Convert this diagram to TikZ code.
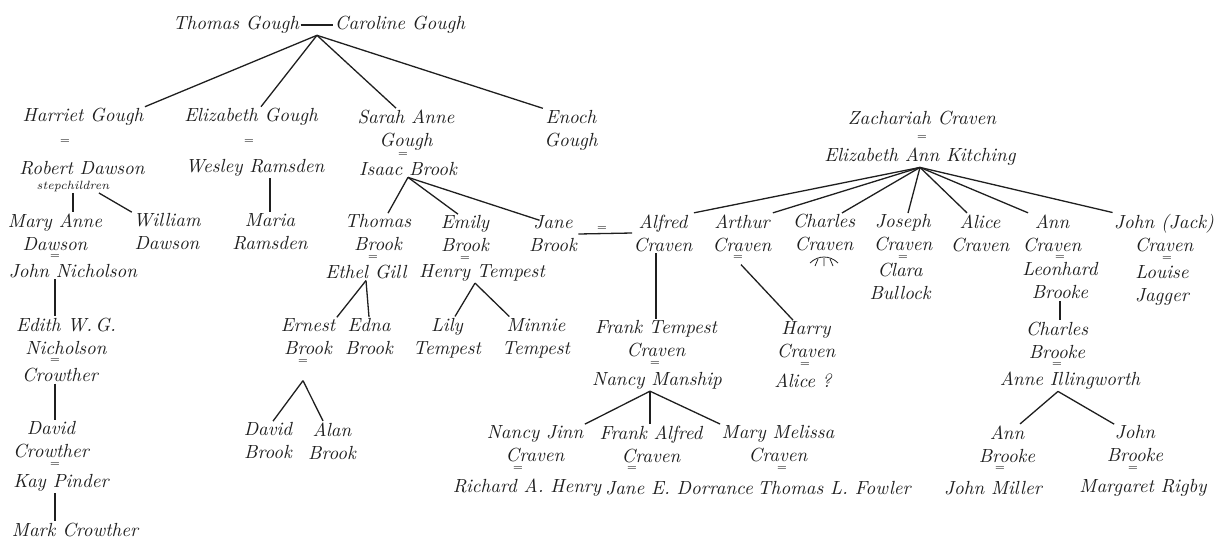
\documentclass[tikz,border=0pt]{standalone}
\usepackage{tikz}
\usetikzlibrary{calc}
\tikzset{pers/.style = {font=\fontsize{9.5}{11.5}\selectfont\itshape, align=center, inner sep=0.5pt},
  wed/.style = {font=\tiny, inner sep=0pt}}
\definecolor{ink}{rgb}{0.12, 0.12, 0.12}

\begin{document}
\begin{tikzpicture}[x=0.5pt, y=-0.5pt, line width=0.65pt, color=ink]
  \useasboundingbox (0, 0) rectangle (1215, 542);

  % Thomas and Caroline Gough
  \node [pers] (thomas) at (236, 25) {Thomas Gough};
  \node [pers] (caroline) at (400, 25) {Caroline Gough};
  \draw (thomas) -- (caroline);
  \coordinate (gough) at ($(thomas.south east)!0.5!(caroline.south west)$);

  \node [pers] (harriet) at (83, 117) {Harriet Gough};
  \node [wed] (w1) at (65, 142) {=};
  \node [pers] (robert) at (82, 168) {Robert Dawson};
  \node [pers, font=\fontsize{6}{7}\selectfont\itshape] (stepkids) at (73, 186) {stepchildren};
  \node [pers] (elizabeth) at (251, 117) {Elizabeth Gough};
  \node [wed] (w2) at (249, 142) {=};
  \node [pers] (wesley) at (255, 168) {Wesley Ramsden};
  \node [pers] (sarah) at (406, 130) {Sarah Anne\\Gough};
  \node [wed] (w3) at (403, 155) {=};
  \node [pers] (isaac) at (408, 169) {Isaac Brook};
  \node [pers] (enoch) at (571, 130) {Enoch\\Gough};
  \draw (gough) -- (harriet.north east);
  \draw (gough) -- ($(elizabeth.north)+(10, 0)$);
  \draw (gough) -- ($(sarah.north)+(-10, 0)$);
  \draw (gough) -- (enoch.north west);

  % Dawson and Crowther
  \node [pers] (maryanne) at (55, 232) {Mary Anne\\Dawson};
  \node [pers] (william) at (167, 232) {William\\Dawson};
  \draw (stepkids.south) -- (stepkids.south |- maryanne.north);
  \draw ($(stepkids.south east)+(-12, 0)$) -- (william.north west);
  \node [wed] (w4) at (55, 257) {=};
  \node [pers] (nicholson) at (73, 271) {John Nicholson};
  \node [pers] (edith) at (66, 336) {Edith W.\,G.\\Nicholson};
  \node [wed] (w5) at (55, 361) {=};
  \node [pers] (crowther) at (60, 375) {Crowther};
  \draw (nicholson.south -| w5) -- (edith.north -| w5);
  \node [pers] (david) at (51, 440) {David\\Crowther};
  \node [wed] (w6) at (55, 465) {=};
  \node [pers] (pinder) at (61, 483) {Kay Pinder};
  \draw (crowther.south -| w6) -- (david.north -| w6);
  \node [pers] (markc) at (75, 530) {Mark Crowther};
  \draw (pinder.south -| w6) -- (markc.north -| w6);

  % Ramsden
  \node [pers] (maria) at (270, 232) {Maria\\Ramsden};
  \draw (wesley.south -| maria.north) -- (maria.north);

  % Brook
  \node [pers] (thomasb) at (378, 233) {Thomas\\Brook};
  \node [pers] (emily) at (465, 234) {Emily\\Brook};
  \node [pers] (jane) at (553, 234) {Jane\\Brook};
  \draw (isaac.south) -- ($(thomasb.north)+(10, 0)$);
  \draw (isaac.south) -- ($(emily.north)+(-7, 0)$);
  \draw (isaac.south) -- ($(jane.north west)+(12, 6)$);
  \node [wed] (w7) at (373, 258) {=};
  \node [pers] (ethel) at (366, 272) {Ethel Gill};
  \node [pers] (ernest) at (308, 337) {Ernest\\Brook};
  \node [pers] (edna) at (369, 337) {Edna\\Brook};
  \draw (ethel.south) -- (ernest.north east);
  \draw (ethel.south) -- (edna.north);
  \node [wed] (w8) at (303, 362) {=};
  \node [pers] (davidb) at (268, 441) {David\\Brook};
  \node [pers] (alan) at (332, 441) {Alan\\Brook};
  \draw ($(w8.south)+(0, 16)$) -- ($(davidb.north)+(5, 0)$);
  \draw ($(w8.south)+(0, 16)$) -- ($(alan.north)+(-9, 0)$);

  % Tempest
  \node [wed] (w9) at (465, 259) {=};
  \node [pers] (henry) at (482, 273) {Henry Tempest};
  \node [pers] (lily) at (447, 338) {Lily\\Tempest};
  \node [pers] (minnie) at (536, 338) {Minnie\\Tempest};
  \draw ($(henry.south)+(-7, 0)$) -- ($(lily.north)+(8, 0)$);
  \draw ($(henry.south)+(-7, 0)$) -- ($(minnie.north west)+(9, 0)$);

  % Zachariah and Elizabeth Ann Craven
  \node [pers] (zachariah) at (922, 118) {Zachariah Craven};
  \node [wed] (w10) at (922, 138) {=};
  \node [pers] (kitching) at (920, 157) {Elizabeth Ann Kitching};
  \node [pers] (alfred) at (663, 233) {Alfred\\Craven};
  \node [pers] (arthur) at (742, 233) {Arthur\\Craven};
  \node [pers] (charles) at (824, 233) {Charles\\Craven};
  \node [pers] (joseph) at (903, 233) {Joseph\\Craven};
  \node [pers] (alice) at (980, 233) {Alice\\Craven};
  \node [pers] (ann) at (1052, 233) {Ann\\Craven};
  \node [pers] (jack) at (1164, 233) {John (Jack)\\Craven};
  \draw (kitching.south) -- (alfred.north east);
  \draw (kitching.south) -- (arthur.north east);
  \draw (kitching.south) -- ($(charles.north)+(18, 0)$);
  \draw (kitching.south) -- ($(joseph.north)+(5, 0)$);
  \draw (kitching.south) -- ($(alice.north)+(-13, 0)$);
  \draw (kitching.south) -- ($(ann.north west)+(7, 0)$);
  \draw (kitching.south) -- (jack.north west);

  % Jane Brook = Alfred Craven
  \draw (jane.east) -- (alfred.west);
  \node [wed] (w11) at (602, 229) {=};
  \node [pers] (frank) at (656, 339) {Frank Tempest\\Craven};
  \draw (alfred.south -| frank.north) -- (frank.north);
  \node [wed] (w12) at (655, 364) {=};
  \node [pers] (manship) at (657, 381) {Nancy Manship};
  \node [pers] (nancyj) at (535, 444) {Nancy Jinn\\Craven};
  \node [pers] (franka) at (651, 444) {Frank Alfred\\Craven};
  \node [pers] (melissa) at (778, 444) {Mary Melissa\\Craven};
  \draw ($(manship.south)+(-7, 0)$) -- (nancyj.north east);
  \draw ($(manship.south)+(-7, 0)$) -- ($(franka.north)+(-1, 0)$);
  \draw ($(manship.south)+(-7, 0)$) -- (melissa.north west);
  \node [wed] (w13) at (518, 469) {=};
  \node [pers] (richard) at (527, 488) {Richard A. Henry};
  \node [wed] (w14) at (632, 469) {=};
  \node [pers] (dorrance) at (679, 488) {Jane E. Dorrance};
  \node [wed] (w15) at (782, 469) {=};
  \node [pers] (fowler) at (834, 488) {Thomas L. Fowler};

  % Arthur, Charles, Joseph, Ann, John
  \node [wed] (w16) at (738, 258) {=};
  \node [pers] (harry) at (806, 340) {Harry\\Craven};
  \draw ($(w16.south)+(3, 4)$) -- ($(harry.north)+(-13, 0)$);
  \node [wed] (w17) at (805, 365) {=};
  \node [pers] (aliceq) at (803, 381) {Alice ?};
  \draw [line width=0.4pt] (810, 263) .. controls (818, 255) and (830, 255) .. (838, 263);
  \draw [line width=0.4pt] (818, 259) -- (815, 266) (824, 258) -- (824, 266) (830, 259) -- (833, 266);
  \node [wed] (w18) at (903, 258) {=};
  \node [pers] (clara) at (900, 281) {Clara\\Bullock};
  \node [wed] (w19) at (1060, 258) {=};
  \node [pers] (leonhard) at (1060, 281) {Leonhard\\Brooke};
  \node [wed] (w20) at (1167, 259) {=};
  \node [pers] (louise) at (1162, 285) {Louise\\Jagger};

  % Brooke
  \node [pers] (charlesb) at (1057, 340) {Charles\\Brooke};
  \draw (leonhard.south) -- (leonhard.south |- charlesb.north);
  \node [wed] (w21) at (1057, 365) {=};
  \node [pers] (illingworth) at (1070, 381) {Anne Illingworth};
  \node [pers] (annb) at (1007, 444) {Ann\\Brooke};
  \node [pers] (johnb) at (1135, 444) {John\\Brooke};
  \draw ($(illingworth.south)+(-12, 0)$) -- ($(annb.north)+(13, 0)$);
  \draw ($(illingworth.south)+(-12, 0)$) -- ($(johnb.north west)+(9, 0)$);
  \node [wed] (w22) at (1000, 469) {=};
  \node [pers] (miller) at (993, 488) {John Miller};
  \node [wed] (w23) at (1133, 469) {=};
  \node [pers] (rigby) at (1143, 488) {Margaret Rigby};
\end{tikzpicture}
\end{document}
